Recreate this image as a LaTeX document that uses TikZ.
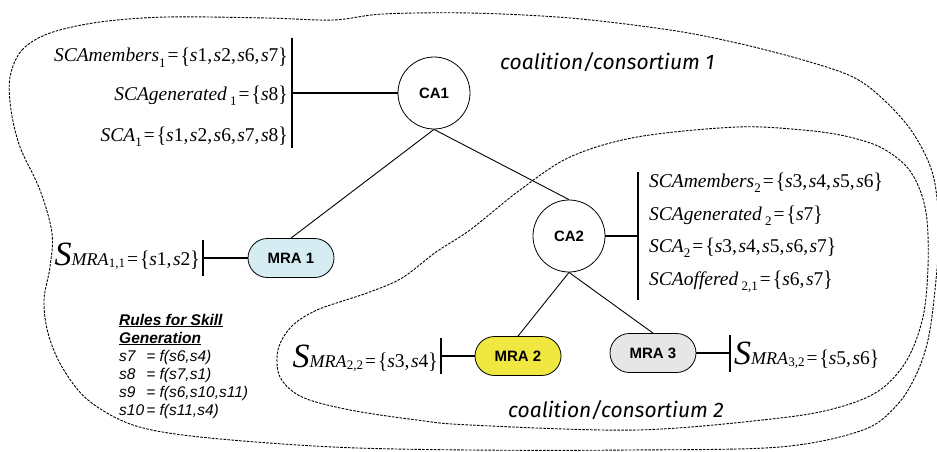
\documentclass[tikz,border=0pt]{standalone}
\usepackage{fontspec}
\setmainfont{Liberation Serif}
\setsansfont{Liberation Sans}
\newfontfamily\handfont{Fira Sans}
\usepackage{graphicx}

% skill symbol s<n>: italic s, upright number
\newcommand\sk[1]{\textit{s}#1}
% lowered small index
\newcommand\lowidx[1]{\raisebox{-0.3em}{\fontsize{13}{13}\selectfont #1}}
% skill set of an MRA: big S, small MRA, index
\newcommand\smra[1]{{\fontsize{34}{34}\selectfont\textit{S}}{\fontsize{18}{18}\selectfont\textit{MRA}}\raisebox{-0.15em}{\fontsize{13}{13}\selectfont #1}}
\newcommand\eqs{\kern2pt=\kern2pt}
% slightly taller set braces
\newcommand\lb{\raisebox{-0.07em}{\scalebox{1}[1.15]{\{}}}
\newcommand\rb{\raisebox{-0.07em}{\scalebox{1}[1.15]{\}}}}
\newcommand\cm{,\kern1.5pt}

\begin{document}
\begin{tikzpicture}[x=1pt,y=-1pt,
  agent/.style={circle,draw,line width=0.8pt,minimum size=72pt,inner sep=0pt,
    font=\sffamily\bfseries\fontsize{15}{15}\selectfont},
  mra/.style={draw,line width=0.8pt,rounded corners=19.5pt,minimum width=86pt,
    minimum height=39pt,inner sep=0pt,font=\sffamily\bfseries\fontsize{15}{15}\selectfont},
  link/.style={line width=0.9pt},
  tie/.style={line width=1.9pt},
  region/.style={line width=0.9pt,dash pattern=on 2.6pt off 1.3pt},
  formula/.style={inner sep=0pt,font=\fontsize{19.5}{19.5}\selectfont},
  rule/.style={inner sep=0pt,anchor=base west,font=\sffamily\itshape\fontsize{15.5}{15.5}\selectfont},
  tag/.style={inner sep=0pt,anchor=base west,font=\handfont\itshape\fontsize{21}{21}\selectfont}
]
\useasboundingbox (0,0) rectangle (937,452);

% coalition / consortium 1 outline
\draw[region] plot[smooth cycle, tension=0.55] coordinates {
  (10,77) (22,50) (50,33) (100,22) (167,17) (267,18) (333,20) (383,14) (470,13)
  (570,18) (670,30) (737,43) (803,60) (853,77) (884,100) (913,133) (933,175)
  (939,230) (935,290) (928,340) (916,375) (897,405) (863,430) (780,447)
  (630,450) (470,450) (333,447) (200,437) (133,425) (88,400) (62,367) (48,333)
  (44,300) (50,267) (52,233) (40,190) (20,147) (11,110)};

% coalition / consortium 2 outline
\draw[region] plot[smooth cycle, tension=0.55] coordinates {
  (470,230) (520,190) (570,157) (637,137) (737,127) (803,130) (845,136)
  (880,147) (906,166) (920,190) (927,220) (928,267) (923,317) (907,360)
  (880,390) (840,407) (780,418) (637,430) (470,425) (417,420) (350,410)
  (302,397) (280,377) (278,350) (291,327) (317,310) (367,293) (402,278)
  (436,252)};

% agents
\node[agent] (CA1) at (434,93) {CA1};
\node[agent] (CA2) at (569,236) {CA2};
\node[mra,fill={rgb,255:red,212;green,236;blue,242}] (MRA1) at (291,258) {MRA 1};
\node[mra,fill={rgb,255:red,240;green,232;blue,64}] (MRA2) at (518,356) {MRA 2};
\node[mra,fill={rgb,255:red,230;green,230;blue,230}] (MRA3) at (653,353) {MRA 3};

% hierarchy
\draw[link] (CA1.south) -- (MRA1.north);
\draw[link] (CA1.south) -- (CA2.north);
\draw[link] (CA2.south) -- (MRA2.north);
\draw[link] (CA2.south) -- (MRA3.north);

% skill-set ties
\coordinate (t1) at (292,93);  \coordinate (t1a) at (292,38);  \coordinate (t1b) at (292,148);
\coordinate (t2) at (638,236); \coordinate (t2a) at (638,172); \coordinate (t2b) at (638,300);
\coordinate (t3) at (203,258); \coordinate (t3a) at (203,240); \coordinate (t3b) at (203,276);
\coordinate (t4) at (441,356); \coordinate (t4a) at (441,338); \coordinate (t4b) at (441,374);
\coordinate (t5) at (730,353); \coordinate (t5a) at (730,335); \coordinate (t5b) at (730,372);
\draw[tie] (CA1.west) -- (t1);  \draw[tie] (t1a) -- (t1b);
\draw[tie] (CA2.east) -- (t2);  \draw[tie] (t2a) -- (t2b);
\draw[tie] (MRA1.west) -- (t3); \draw[tie] (t3a) -- (t3b);
\draw[tie] (MRA2.west) -- (t4); \draw[tie] (t4a) -- (t4b);
\draw[tie] (MRA3.east) -- (t5); \draw[tie] (t5a) -- (t5b);

% skill sets of CA1
\node[formula,anchor=base east] (f11) at (288,62)
  {\textit{SCAmembers}\lowidx{1}\eqs\lb\sk1\cm\sk2\cm\sk6\cm\sk7\rb};
\node[formula,anchor=base east] (f12) at (288,100)
  {\textit{SCAgenerated}\,\lowidx{1}\eqs\lb\sk8\rb};
\node[formula,anchor=base east] (f13) at (288,141)
  {\textit{SCA}\lowidx{1}\eqs\lb\sk1\cm\sk2\cm\sk6\cm\sk7\cm\sk8\rb};

% skill sets of CA2
\node[formula,anchor=base west] (f21) at (649,187)
  {\textit{SCAmembers}\lowidx{2}\eqs\lb\sk3\cm\sk4\cm\sk5\cm\sk6\rb};
\node[formula,anchor=base west] (f22) at (649,220)
  {\textit{SCAgenerated}\,\lowidx{2}\eqs\lb\sk7\rb};
\node[formula,anchor=base west] (f23) at (649,252)
  {\textit{SCA}\lowidx{2}\eqs\lb\sk3\cm\sk4\cm\sk5\cm\sk6\cm\sk7\rb};
\node[formula,anchor=base west] (f24) at (649,285)
  {\textit{SCAoffered}\,\lowidx{2,1}\eqs\lb\sk6\cm\sk7\rb};

% skill sets of the MRAs
\node[formula,anchor=base east] (m1) at (200,265) {\smra{1,1}\eqs\lb\sk1\cm\sk2\rb};
\node[formula,anchor=base east] (m2) at (438,367) {\smra{2,2}\eqs\lb\sk3\cm\sk4\rb};
\node[formula,anchor=base west] (m3) at (734,364) {\smra{3,2}\eqs\lb\sk5\cm\sk6\rb};

% skill generation rules
\node[rule] (r0) at (119,325) {\bfseries\underline{Rules for Skill}};
\node[rule] (r1) at (119,343) {\bfseries\underline{Generation}};
\node[rule] (r2) at (119,361) {\makebox[24.5pt][l]{s7}\,= f(s6,s4)};
\node[rule] (r3) at (119,379) {\makebox[24.5pt][l]{s8}\,= f(s7,s1)};
\node[rule] (r4) at (119,397) {\makebox[24.5pt][l]{s9}\,= f(s6,s10,s11)};
\node[rule] (r5) at (119,415) {\makebox[24.5pt][l]{s10}\,= f(s11,s4)};

% coalition labels
\node[tag] (c1) at (500,70) {coalition/consortium 1};
\node[tag] (c2) at (508,417) {coalition/consortium 2};
\end{tikzpicture}
\end{document}
